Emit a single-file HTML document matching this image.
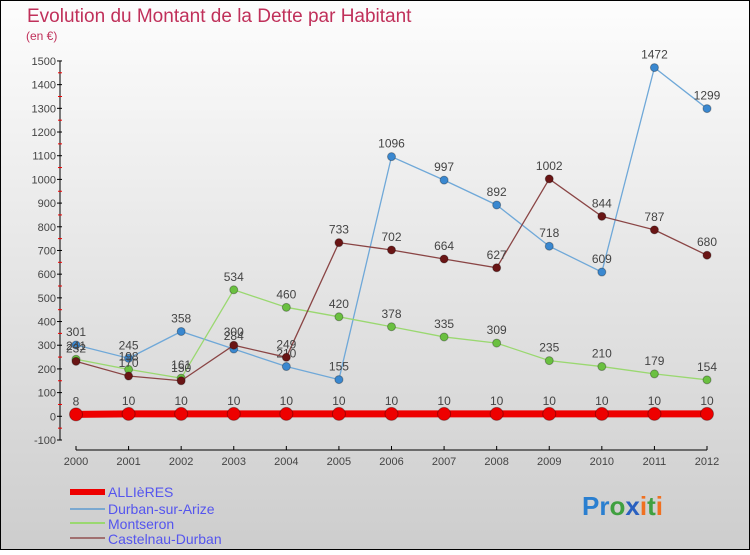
<!DOCTYPE html>
<html><head><meta charset="utf-8"><style>
body{margin:0}
#c{width:750px;height:550px;position:relative;font-family:"Liberation Sans",sans-serif}
svg text{font-family:"Liberation Sans",sans-serif}
</style></head><body>
<div id="c">
<svg id="s" width="750" height="550" xmlns="http://www.w3.org/2000/svg">
<defs><linearGradient id="bg" x1="0" y1="0" x2="0" y2="1"><stop offset="0" stop-color="#fdfdfd"/><stop offset="1" stop-color="#cdcdcd"/></linearGradient></defs>
<rect x="0.5" y="0.5" width="749" height="549" fill="url(#bg)" stroke="#000"/>
<text x="27" y="22" font-size="19" fill="#c0305a">Evolution du Montant de la Dette par Habitant</text>
<text x="26" y="40" font-size="12" fill="#c0305a">(en €)</text>
<g id="axes"></g><g id="series"></g>
<g>
<rect x="70" y="489" width="35" height="6" fill="#e00"/>
<text x="108" y="497" font-size="14" fill="#5555ee">ALLIèRES</text>
<line x1="70" y1="509" x2="105" y2="509" stroke="#7aa8d0" stroke-width="2"/>
<text x="108" y="514" font-size="14" fill="#5555ee">Durban-sur-Arize</text>
<line x1="70" y1="523" x2="105" y2="523" stroke="#9ad870" stroke-width="2"/>
<text x="108" y="529" font-size="14" fill="#5555ee">Montseron</text>
<line x1="70" y1="538" x2="105" y2="538" stroke="#a07070" stroke-width="2"/>
<text x="108" y="544" font-size="14" fill="#5555ee">Castelnau-Durban</text>
</g>
<text x="582" y="515" font-size="26" font-weight="bold"><tspan fill="#2a7fd0">Pr</tspan><tspan fill="#40a040">o</tspan><tspan fill="#2a60c0">x</tspan><tspan fill="#f07020">i</tspan><tspan fill="#40a040">t</tspan><tspan fill="#f07020">i</tspan></text>
</svg></div>
<script>
const years=[2000,2001,2002,2003,2004,2005,2006,2007,2008,2009,2010,2011,2012];
const yTicks=[-100,0,100,200,300,400,500,600,700,800,900,1000,1100,1200,1300,1400,1500];
const allieres=[8,10,10,10,10,10,10,10,10,10,10,10,10];
const durban=[301,245,358,284,210,155,1096,997,892,718,609,1472,1299];
const montseron=[241,198,161,534,460,420,378,335,309,235,210,179,154];
const castelnau=[232,170,150,300,249,733,702,664,627,1002,844,787,680];
const NS="http://www.w3.org/2000/svg";
function xs(i){return 76+i*(707-76)/(years.length-1);}
function ys(v){return 416.3-v*0.2369;}
function mk(t,a,p){const e=document.createElementNS(NS,t);for(const k in a)e.setAttribute(k,a[k]);p.appendChild(e);return e;}
const ax=document.getElementById('axes'),sr=document.getElementById('series');
let l=mk('line',{x1:60,y1:ys(1500),x2:60,y2:ys(-100),stroke:'#000'},ax);


yTicks.forEach((v,i)=>{
 mk('line',{x1:57,y1:ys(v),x2:62,y2:ys(v),stroke:'#000'},ax);
 if(i<yTicks.length-1)mk('line',{x1:58,y1:ys(v+50),x2:62,y2:ys(v+50),stroke:'#e00'},ax);
 const t=mk('text',{x:56,y:ys(v)+4,'font-size':11,fill:'#444','text-anchor':'end'},ax);t.textContent=v;
 
 
});
l=mk('line',{x1:76,y1:450,x2:707,y2:450,stroke:'#000'},ax);


years.forEach((y,i)=>{
 mk('line',{x1:xs(i),y1:446,x2:xs(i),y2:450,stroke:'#000'},ax);
 const t=mk('text',{x:xs(i),y:465,'font-size':11,fill:'#444','text-anchor':'middle'},ax);t.textContent=y;
 
 
});
function series(d,color,dot,w,r,name){
 const g=mk('g',{},sr);
 
 
 mk('polyline',{points:d.map((v,i)=>xs(i)+','+ys(v)).join(' '),fill:'none',stroke:color,'stroke-width':w},g);
 d.forEach((v,i)=>{
  const c=mk('circle',{cx:xs(i),cy:ys(v),r:r,fill:dot,stroke:'rgba(0,0,0,0.3)'},g);
  
  
  const t=mk('text',{x:xs(i),y:ys(v)-9,'font-size':12,fill:'#444','text-anchor':'middle'},g);t.textContent=v;
  
  
 });
}
series(durban,'#6fa8d8','#3a88d0',1.3,4,'durban');
series(montseron,'#9ad870','#6ac040',1.3,4,'montseron');
series(castelnau,'#8a4545','#6a1515',1.3,4,'castelnau');
series(allieres,'#e00','#e00',7,6.5,'allieres');
</script></body></html>
